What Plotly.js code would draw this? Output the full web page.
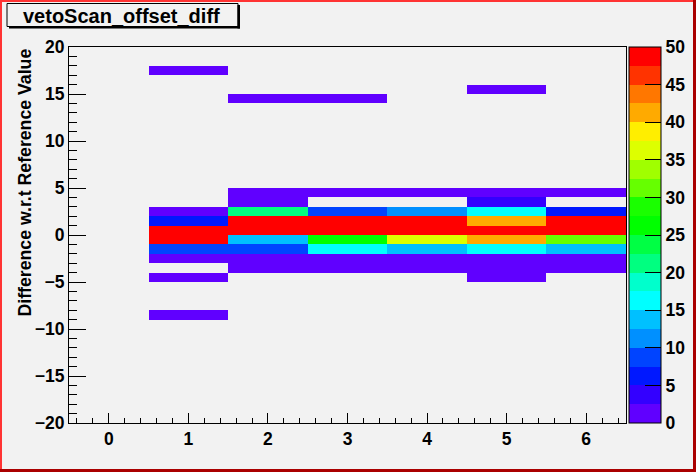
<!DOCTYPE html>
<html>
<head>
<meta charset="utf-8">
<script src="https://cdn.plot.ly/plotly-3.0.1.min.js"></script>
<style>
  html, body { margin: 0; padding: 0; background: #f2f2f2; }
  #chart { width: 696px; height: 472px; }
</style>
</head>
<body>
<div id="chart"></div>
<script>
// ---- Data (bin contents) ----
const xCenters = [0, 1, 2, 3, 4, 5, 6];
const yLow = -20, yHigh = 20;           // y bins of width 1
// rows keyed by bin lower edge; values per x bin (null = empty)
const row17  = [null, 1, null, null, null, null, null];
const row15  = [null, null, null, null, null, 1, null];
const row14  = [null, null, 1, 1, null, null, null];
const row4   = [null, null, 1, 1, 1, 1, 1];
const row3   = [null, null, 1, null, null, 4, null];
const row2   = [null, 1, 21, 9, 11, 16, 6];
const row1   = [null, 6, 50, 50, 50, 41, 50];
const row0   = [null, 50, 50, 50, 50, 50, 50];
const rowM1  = [null, 50, 14, 26, 36, 41, 31];
const rowM2  = [null, 9, 9, 16, 14, 16, 14];
const rowM3  = [null, 1, 1, 1, 1, 1, 1];
const rowM4  = [null, null, 1, 1, 1, 1, 1];
const rowM5  = [null, 1, null, null, null, 1, null];
const rowM9  = [null, 1, null, null, null, null, null];
const rowsByEdge = {
  "17": row17, "15": row15, "14": row14, "4": row4, "3": row3, "2": row2,
  "1": row1, "0": row0, "-1": rowM1, "-2": rowM2, "-3": rowM3,
  "-4": rowM4, "-5": rowM5, "-9": rowM9
};
const colorTicks = [0, 5, 10, 15, 20, 25, 30, 35, 40, 45, 50];
const bandColors = [
  "#6000ff", "#3300ff", "#0018ff", "#0044ff", "#0090ff", "#00c0ff",
  "#00ffff", "#00ffcc", "#00ff80", "#00ff44", "#00ff00", "#1aff00",
  "#66ff00", "#a0ff00", "#ddff00", "#ffee00", "#ffaa00", "#ff7700",
  "#ff3300", "#ff0000"
];

// ---- Build heatmap grid ----
const yCenters = [];
const z = [];
for (let k = yLow; k < yHigh; k++) {
  yCenters.push(k + 0.5);
  const r = rowsByEdge[String(k)];
  z.push(r ? r.slice() : xCenters.map(() => null));
}
const colorscale = [];
bandColors.forEach((c, i) => {
  colorscale.push([i / bandColors.length, c]);
  colorscale.push([(i + 1) / bandColors.length, c]);
});

// ---- Geometry helpers (pixel -> paper) ----
const L = 69, R = 626, T = 47, B = 423;
const px = x => (x - L) / (R - L);
const py = y => (B - y) / (B - T);

const FAM = "Liberation Sans, Arial, sans-serif";
const tickFont = { family: FAM, size: 17.5, color: "black", weight: "bold" };
const axTitleFont = { family: FAM, size: 17.7, color: "black", weight: "bold" };

const trace = {
  type: "heatmap",
  x: xCenters,
  y: yCenters,
  z: z,
  zmin: 0, zmax: 50,
  zsmooth: false,
  colorscale: colorscale,
  hoverinfo: "skip",
  colorbar: {
    thickness: 32, thicknessmode: "pixels",
    len: B - T, lenmode: "pixels",
    x: 629 / 696, xref: "container", xanchor: "left", xpad: 0,
    y: 0.5, yanchor: "middle", ypad: 0,
    outlinewidth: 1, outlinecolor: "black",
    tickmode: "array", tickvals: colorTicks,
    ticks: "inside", ticklen: 16, tickcolor: "black", tickwidth: 1,
    tickfont: tickFont
  }
};

const shapes = [
  // canvas border (bevel)
  { type: "rect", xref: "paper", yref: "paper", x0: px(0), x1: px(2), y0: py(0), y1: py(472), fillcolor: "#ff3333", line: { width: 0 } },
  { type: "rect", xref: "paper", yref: "paper", x0: px(0), x1: px(696), y0: py(0), y1: py(2), fillcolor: "#ff3333", line: { width: 0 } },
  { type: "rect", xref: "paper", yref: "paper", x0: px(693), x1: px(696), y0: py(0), y1: py(472), fillcolor: "#aa0000", line: { width: 0 } },
  { type: "rect", xref: "paper", yref: "paper", x0: px(0), x1: px(696), y0: py(469), y1: py(472), fillcolor: "#aa0000", line: { width: 0 } },
  // title box
  { type: "rect", xref: "paper", yref: "paper", x0: px(7), x1: px(238), y0: py(3.5), y1: py(26.5), fillcolor: "#f2f2f2", line: { color: "black", width: 1 } },
  { type: "rect", xref: "paper", yref: "paper", x0: px(237.5), x1: px(240), y0: py(5), y1: py(28.5), fillcolor: "black", line: { width: 0 } },
  { type: "rect", xref: "paper", yref: "paper", x0: px(9), x1: px(240), y0: py(26), y1: py(28.5), fillcolor: "black", line: { width: 0 } }
];

const layout = {
  width: 696, height: 472,
  margin: { l: L, r: 696 - R, t: T, b: 472 - B, pad: 0 },
  paper_bgcolor: "#f2f2f2",
  plot_bgcolor: "#f2f2f2",
  showlegend: false,
  xaxis: {
    range: [-0.5, 6.5], tickmode: "linear", tick0: 0, dtick: 1,
    ticks: "inside", ticklen: 10, tickwidth: 1, tickcolor: "black",
    minor: { tickmode: "linear", tick0: 0, dtick: 0.2, ticks: "inside", ticklen: 5, tickcolor: "black", showgrid: false },
    showline: true, mirror: true, linecolor: "black", linewidth: 1,
    showgrid: false, zeroline: false, tickfont: tickFont, fixedrange: true
  },
  yaxis: {
    range: [-20, 20], tickmode: "linear", tick0: 0, dtick: 5,
    ticks: "inside", ticklen: 17, tickwidth: 1, tickcolor: "black",
    minor: { tickmode: "linear", tick0: 0, dtick: 1, ticks: "inside", ticklen: 8, tickcolor: "black", showgrid: false },
    showline: true, mirror: true, linecolor: "black", linewidth: 1,
    showgrid: false, zeroline: false, tickfont: tickFont, fixedrange: true
  },
  shapes: shapes,
  annotations: [
    { xref: "paper", yref: "paper", x: px(121), y: py(16), xanchor: "center", yanchor: "middle",
      text: "vetoScan_offset_diff", showarrow: false,
      font: { family: FAM, size: 20, color: "black", weight: "bold" } },
    { xref: "paper", yref: "paper", x: px(24.5), y: 1, xanchor: "center", yanchor: "top",
      text: "Difference w.r.t Reference Value", textangle: -90, showarrow: false,
      font: axTitleFont }
  ]
};

Plotly.newPlot("chart", [trace], layout, { displayModeBar: false, staticPlot: true });
</script>
</body>
</html>
